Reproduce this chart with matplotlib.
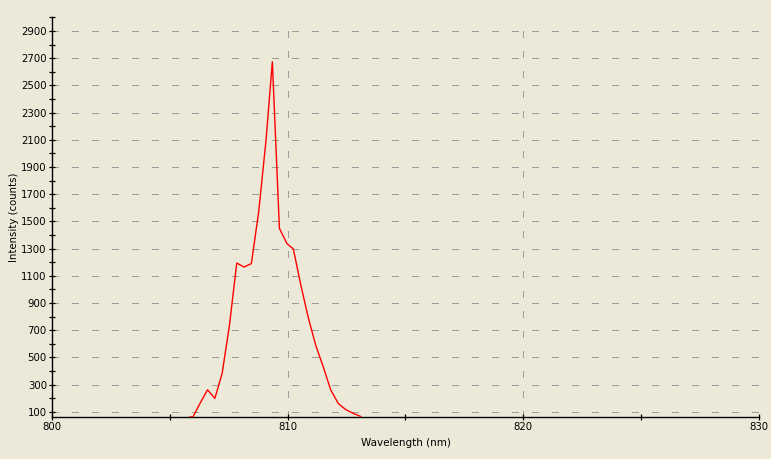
import matplotlib
matplotlib.use("Agg")
import matplotlib.pyplot as plt
from matplotlib.ticker import MultipleLocator

# spectrum (nm, counts)
wavelength = [805.86, 805.98, 806.29, 806.60, 806.91, 807.22, 807.53, 807.84,
              808.15, 808.46, 808.77, 809.08, 809.35, 809.65, 809.97, 810.24,
              810.56, 810.87, 811.19, 811.51, 811.83, 812.15, 812.46, 812.78,
              813.10]
intensity = [62, 62, 164, 261, 198, 382, 736, 1193,
             1164, 1189, 1570, 2093, 2673, 1448, 1336, 1297,
             1030, 795, 589, 430, 259, 160, 116, 88,
             65]

bg = "#ECE9D8"

fig = plt.figure(figsize=(7.71, 4.59), dpi=100, facecolor=bg)
ax = fig.add_axes([52 / 771, 1 - 417.3 / 459, (759 - 52) / 771, (417.3 - 17.3) / 459])
ax.set_facecolor(bg)

ax.plot(wavelength, intensity, color="#FF0000", linewidth=1.0, zorder=3)

ax.set_xlim(800, 830)
ax.set_ylim(59, 2995)

ax.xaxis.set_major_locator(MultipleLocator(10))
ax.xaxis.set_minor_locator(MultipleLocator(5))
ax.set_yticks(range(100, 3000, 200))
ax.set_yticks(range(200, 3001, 200), minor=True)

ax.grid(True, which="major", color="#9C9C9C", linewidth=0.75,
        linestyle=(0, (6.5, 13)), antialiased=False)
ax.set_axisbelow(True)

for s in ["top", "right"]:
    ax.spines[s].set_visible(False)
for s in ["left", "bottom"]:
    ax.spines[s].set_color("black")
    ax.spines[s].set_linewidth(1.0)

ax.tick_params(which="both", direction="inout", length=5, width=0.9,
               color="black", labelsize=7.3, pad=1.2)

ax.set_xlabel("Wavelength (nm)", fontsize=7.5)
ax.set_ylabel("Intensity (counts)", fontsize=7.3)
ax.xaxis.set_label_coords(0.5, -0.052)
ax.yaxis.set_label_coords(-0.046, 0.5)

fig.savefig("out.png", dpi=100, facecolor=bg)
